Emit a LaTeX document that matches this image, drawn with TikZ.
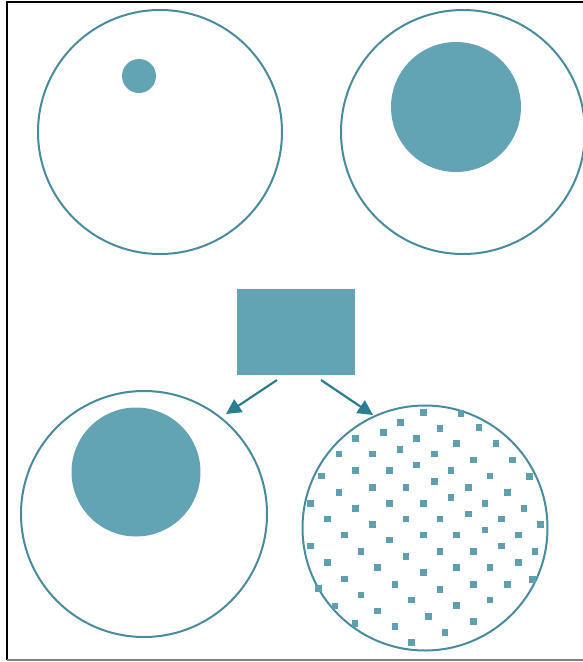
\documentclass[tikz,border=0pt]{standalone}
\usetikzlibrary{arrows.meta}
\definecolor{tealfill}{RGB}{99,164,180}
\definecolor{tealline}{RGB}{70,140,158}
\definecolor{tealarrow}{RGB}{40,125,145}
\definecolor{dotcol}{RGB}{95,160,176}
\tikzset{
  ring/.style={draw=tealline, line width=2pt, circle, inner sep=0pt, fill=none},
  blob/.style={fill=tealfill, draw=none, circle, inner sep=0pt},
  arr/.style={draw=tealarrow, line width=2.2pt, -{Triangle[length=15pt,width=15pt]}},
  dot/.style={fill=dotcol, draw=none}
}
\begin{document}
\begin{tikzpicture}[x=1pt,y=-1pt]
\useasboundingbox (0,0) rectangle (583,662);
% frame
\draw[black, line width=1.5pt] (7,660) -- (7,2) -- (583,2);
\draw[gray, line width=2pt] (7,660) -- (583,660);
% top left
\node[ring, minimum size=244pt] (c1) at (160,132) {};
\node[blob, minimum size=34pt] (b1) at (139,76) {};
% top right
\node[ring, minimum size=244pt] (c2) at (463,132) {};
\node[blob, minimum size=130pt] (b2) at (456,107) {};
% rectangle
\node[fill=tealfill, minimum width=118pt, minimum height=86pt, inner sep=0pt] (rect) at (296,332) {};
% bottom left
\node[ring, minimum size=246pt] (c3) at (144,514) {};
\node[blob, minimum size=129pt] (b3) at (136,472) {};
% bottom right
\node[ring, minimum size=245pt] (c4) at (425,528) {};
% arrows
\coordinate (a1s) at (277,380);
\coordinate (a1e) at (226,414);
\coordinate (a2s) at (321,380);
\coordinate (a2e) at (373,415);
\draw[arr] (a1s) -- (a1e);
\draw[arr] (a2s) -- (a2e);
% dots
\foreach \a/\b in {370/37,483/40,
302/68,420/85,537/83,
250/98,167/115,350/115,470/130,588/130,
117/162,217/162,300/148,403/162,520/180,637/180,
167/212,268/212,350/195,453/212,570/228,688/230,
65/228,117/277,217/262,318/262,403/245,505/262,622/278,
32/310,167/325,268/310,370/310,453/293,555/310,672/325,
83/357,217/373,318/357,420/357,505/342,605/357,722/373,
133/405,268/420,370/405,470/405,555/390,655/405,
32/438,183/455,318/470,420/455,520/455,605/438,705/455,
83/487,233/503,370/518,470/503,570/503,655/487,
133/537,285/553,420/568,520/553,622/553,697/538,
55/565,183/585,335/600,470/617,570/600,
105/618,233/633,385/650,520/665,
165/670,285/680,435/697,
335/728}
  \fill[dot] ({300+\a/3-3.2},{400+\b/3-3.2}) rectangle ++(6.4,6.4);
\end{tikzpicture}
\end{document}
